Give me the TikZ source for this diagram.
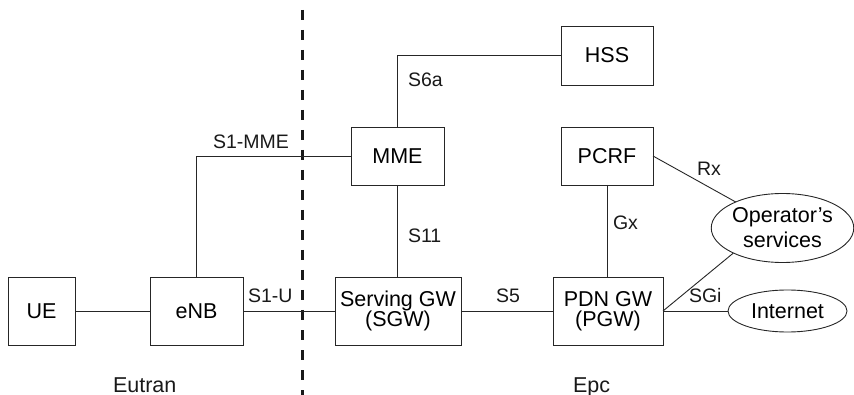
\documentclass[tikz,border=0pt]{standalone}
\usepackage{fontspec}
\setmainfont{Liberation Sans}
\usetikzlibrary{shapes.geometric}
\begin{document}
\begin{tikzpicture}[x=1pt,y=-1pt,
  every node/.style={inner sep=0pt, outer sep=0pt},
  box/.style={draw=black!85, line width=0.9pt, font=\fontsize{21.5}{21}\selectfont, align=center, minimum height=68pt},
  cloud/.style={ellipse, draw=black!85, line width=0.9pt, font=\fontsize{21.5}{25}\selectfont, align=center},
  lbl/.style={font=\fontsize{19.5}{19}\selectfont, anchor=base west, text=black!90},
  link/.style={draw=black!85, line width=0.9pt},
  divider/.style={draw=black!90, line width=3pt, dash pattern=on 10pt off 10pt}]
\useasboundingbox (0,0) rectangle (854,395);
% boxes
\node[box, minimum width=67pt] (ue) at (41.5,311) {UE};
\node[box, minimum width=93pt] (enb) at (196.5,311) {eNB};
\node[box, minimum width=126pt, font=\fontsize{21.5}{20.5}\selectfont] (sgw) at (398,311) {Serving GW\\(SGW)};
\node[box, minimum width=110pt, font=\fontsize{21.5}{20.5}\selectfont] (pgw) at (608,311) {PDN GW\\(PGW)};
\node[box, minimum width=93pt, minimum height=58pt] (mme) at (397.5,156) {MME};
\node[box, minimum width=92pt, minimum height=59pt] (hss) at (607,55.5) {HSS};
\node[box, minimum width=92pt, minimum height=58pt] (pcrf) at (607,156) {PCRF};
\node[cloud, minimum width=119pt, minimum height=42pt] (inet) at (787.5,311) {Internet};
\node[cloud, minimum width=140pt, minimum height=69pt] (ops) at (782.5,228) {Operator’s\\services};
% divider
\coordinate (dtop) at (302,10);
\coordinate (dbot) at (302,395);
\draw[divider] (dtop) -- (dbot);
% links
\draw[link] (ue.east) -- (enb.west);
\draw[link] (enb.east) -- (sgw.west);
\draw[link] (sgw.east) -- (pgw.west);
\draw[link] (pgw.east) -- (inet.west);
\draw[link] (enb.north) |- (mme.west);
\draw[link] (mme.north) |- (hss.west);
\draw[link] (mme.south) -- (mme.south |- sgw.north);
\draw[link] (pcrf.south) -- (pcrf.south |- pgw.north);
\draw[link] (pcrf.east) -- (ops);
\draw[link] (pgw.east) -- (ops.207);
% labels
\node[lbl] (l1) at (213,149) {S1-MME};
\node[lbl] (l2) at (408,87) {S6a};
\node[lbl] (l3) at (408,243) {S11};
\node[lbl] (l4) at (613,230) {Gx};
\node[lbl] (l5) at (697,176) {Rx};
\node[lbl] (l6) at (248,303) {S1-U};
\node[lbl] (l7) at (496,303) {S5};
\node[lbl] (l8) at (689,303) {SGi};
\node[lbl, font=\fontsize{21.5}{21}\selectfont] (l9) at (113,392) {Eutran};
\node[lbl, font=\fontsize{21.5}{21}\selectfont] (l10) at (573,392) {Epc};
\end{tikzpicture}
\end{document}
